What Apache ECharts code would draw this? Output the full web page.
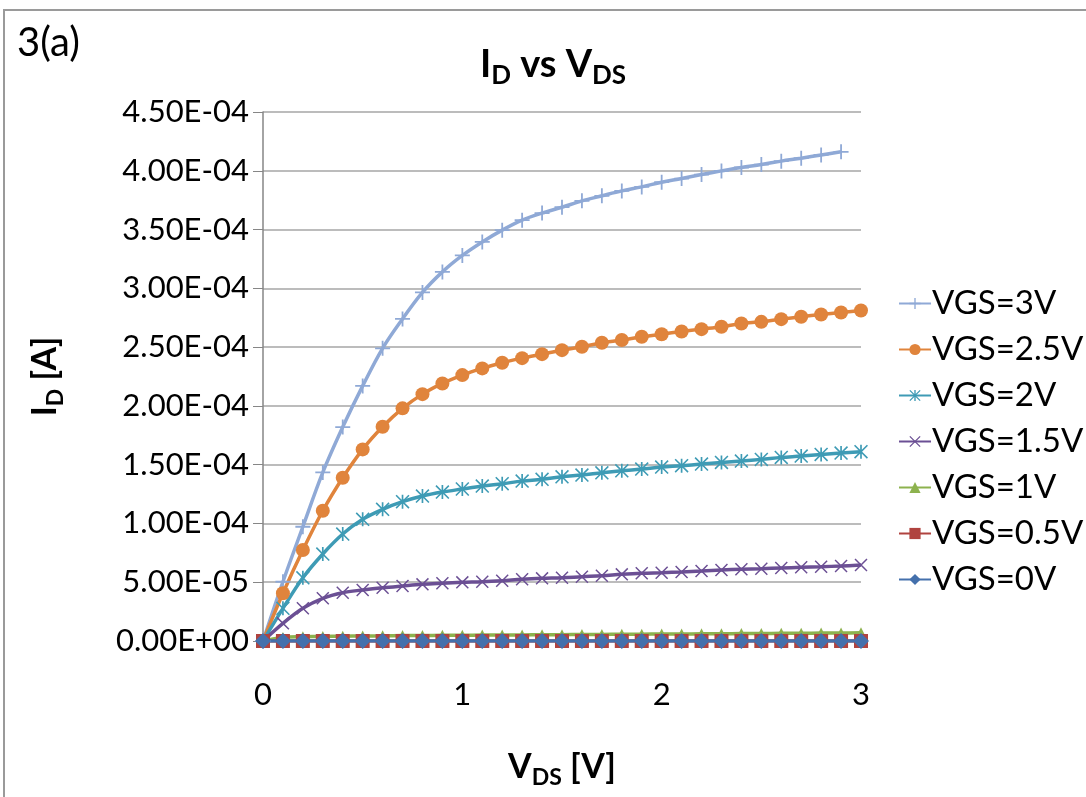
<!DOCTYPE html>
<html>
<head>
<meta charset="utf-8">
<script src="https://cdn.jsdelivr.net/npm/echarts@6/dist/echarts.min.js"></script>
<style>
  html, body { margin: 0; padding: 0; background: #fff; }
  #chart { width: 1086px; height: 797px; }
</style>
</head>
<body>
<div id="chart"></div>
<script>
// V_DS sweep (V)
const vds = [0, 0.1, 0.2, 0.3, 0.4, 0.5, 0.6, 0.7, 0.8, 0.9, 1.0, 1.1, 1.2, 1.3, 1.4, 1.5,
  1.6, 1.7, 1.8, 1.9, 2.0, 2.1, 2.2, 2.3, 2.4, 2.5, 2.6, 2.7, 2.8, 2.9, 3.0]

// drain current (A)
const id3v = [0, 5.04e-5, 9.72e-5, 14.34e-5, 18.2e-5, 21.7e-5, 24.9e-5, 27.4e-5, 29.65e-5, 31.4e-5,
  32.8e-5, 33.95e-5, 34.95e-5, 35.8e-5, 36.4e-5, 36.9e-5, 37.44e-5, 37.87e-5, 38.29e-5, 38.63e-5,
  39.03e-5, 39.34e-5, 39.68e-5, 39.99e-5, 40.28e-5, 40.53e-5, 40.82e-5, 41.07e-5, 41.35e-5, 41.61e-5]
const id25v = [0, 4.06e-5, 7.74e-5, 11.08e-5, 13.89e-5, 16.3e-5, 18.22e-5, 19.79e-5, 21.0e-5, 21.91e-5,
  22.62e-5, 23.19e-5, 23.67e-5, 24.06e-5, 24.4e-5, 24.74e-5, 25.03e-5, 25.37e-5, 25.6e-5, 25.88e-5,
  26.1e-5, 26.33e-5, 26.53e-5, 26.73e-5, 27.01e-5, 27.15e-5, 27.38e-5, 27.58e-5, 27.78e-5, 27.95e-5, 28.12e-5]
const id2v = [0, 2.78e-5, 5.38e-5, 7.4e-5, 9.1e-5, 10.35e-5, 11.2e-5, 11.85e-5, 12.33e-5, 12.67e-5,
  12.93e-5, 13.18e-5, 13.38e-5, 13.6e-5, 13.75e-5, 13.97e-5, 14.12e-5, 14.31e-5, 14.48e-5, 14.63e-5,
  14.8e-5, 14.91e-5, 15.05e-5, 15.19e-5, 15.31e-5, 15.45e-5, 15.62e-5, 15.73e-5, 15.87e-5, 15.99e-5, 16.1e-5]
const id15v = [0, 1.5e-5, 2.78e-5, 3.63e-5, 4.11e-5, 4.34e-5, 4.53e-5, 4.68e-5, 4.82e-5, 4.91e-5,
  4.99e-5, 5.04e-5, 5.13e-5, 5.25e-5, 5.33e-5, 5.38e-5, 5.47e-5, 5.55e-5, 5.67e-5, 5.76e-5,
  5.81e-5, 5.87e-5, 5.95e-5, 6.04e-5, 6.1e-5, 6.15e-5, 6.21e-5, 6.27e-5, 6.32e-5, 6.38e-5, 6.46e-5]
const id1v = [0, 0.3e-5, 0.36e-5, 0.39e-5, 0.41e-5, 0.43e-5, 0.44e-5, 0.46e-5, 0.47e-5, 0.48e-5,
  0.49e-5, 0.5e-5, 0.51e-5, 0.52e-5, 0.53e-5, 0.54e-5, 0.55e-5, 0.56e-5, 0.57e-5, 0.58e-5,
  0.59e-5, 0.6e-5, 0.61e-5, 0.62e-5, 0.63e-5, 0.64e-5, 0.65e-5, 0.66e-5, 0.67e-5, 0.68e-5, 0.7e-5]
const id05v = [0, 0, 0, 0, 0, 0, 0, 0, 0, 0, 0, 0, 0, 0, 0, 0, 0, 0, 0, 0, 0, 0, 0, 0, 0, 0, 0, 0, 0, 0, 0]
const id0v = [0, 0, 0, 0, 0, 0, 0, 0, 0, 0, 0, 0, 0, 0, 0, 0, 0, 0, 0, 0, 0, 0, 0, 0, 0, 0, 0, 0, 0, 0, 0]

const seriesNames = ['VGS=3V', 'VGS=2.5V', 'VGS=2V', 'VGS=1.5V', 'VGS=1V', 'VGS=0.5V', 'VGS=0V']

const FONT = 'Lato'

// marker shapes (excel style)
const plusPath = 'path://M4.4,0H5.6V10H4.4Z M0,4.4H10V5.6H0Z'
const crossPath = 'path://M0.8,0L10,9.2L9.2,10L0,0.8Z M9.2,0L10,0.8L0.8,10L0,9.2Z'
const starPath = 'path://M0.8,0L10,9.2L9.2,10L0,0.8Z M9.2,0L10,0.8L0.8,10L0,9.2Z M4.4,0H5.6V10H4.4Z'

const styles = [
  { color: '#8FA9D6', symbol: plusPath, size: 15 },
  { color: '#E0843C', symbol: 'circle', size: 14 },
  { color: '#3E9BB5', symbol: starPath, size: 14 },
  { color: '#6B4F94', symbol: crossPath, size: 13 },
  { color: '#8DB24E', symbol: 'triangle', size: 11 },
  { color: '#B0433F', symbol: 'rect', size: 14 },
  { color: '#4470AC', symbol: 'diamond', size: 16 }
]
const values = [id3v, id25v, id2v, id15v, id1v, id05v, id0v]

function pairs (ys) {
  return ys.map((y, i) => [vds[i], y])
}

function sciLabel (v) {
  const parts = v.toExponential(2).split('e')
  const n = parseInt(parts[1], 10)
  return parts[0] + 'E' + (n < 0 ? '-' : '+') + String(Math.abs(n)).padStart(2, '0')
}

// bold text with lowered subscript
function subRich (big, small, lh) {
  return {
    b: { fontFamily: FONT, fontWeight: 'bold', fontSize: big, color: '#000', lineHeight: lh },
    s: { fontFamily: FONT, fontWeight: 'bold', fontSize: small, color: '#000', lineHeight: small, verticalAlign: 'bottom' }
  }
}

const chart = echarts.init(document.getElementById('chart'))

const series = seriesNames.map((name, i) => ({
  name: name,
  type: 'line',
  data: pairs(values[i]),
  smooth: 0.35,
  symbol: styles[i].symbol,
  symbolSize: styles[i].size,
  showAllSymbol: true,
  lineStyle: { color: styles[i].color, width: 3.5 },
  itemStyle: { color: styles[i].color },
  emphasis: { disabled: true }
}))

const option = {
  animation: false,
  backgroundColor: '#fff',
  textStyle: { fontFamily: FONT },
  graphic: [
    // outer chart frame (cut off at right and bottom)
    {
      type: 'rect',
      shape: { x: 4, y: 10, width: 1100, height: 800 },
      style: { fill: 'none', stroke: '#9a9a9a', lineWidth: 2 },
      silent: true
    },
    {
      type: 'text',
      left: 17,
      top: 23,
      style: { text: '3(a)', font: '40px ' + FONT, fill: '#000' }
    }
  ],
  title: {
    text: '{b|I}{s|D}{b| vs V}{s|DS}',
    left: 548,
    top: 36,
    textAlign: 'center',
    textStyle: { rich: subRich(38, 26, 48) }
  },
  legend: {
    orient: 'vertical',
    left: 893,
    top: 282,
    itemWidth: 32,
    itemHeight: 14,
    itemGap: 13,
    data: seriesNames,
    textStyle: { fontFamily: FONT, fontSize: 33, color: '#000', padding: [0, 0, 0, -4] }
  },
  grid: { left: 263, right: 225, top: 112, bottom: 156 },
  xAxis: {
    type: 'value',
    min: 0,
    max: 3,
    interval: 1,
    name: '{b|V}{s|DS}{b| [V]}',
    nameLocation: 'middle',
    nameGap: 104,
    nameTextStyle: { rich: subRich(34, 23, 44) },
    axisLine: { show: true, lineStyle: { color: '#868686', width: 1.5 } },
    axisTick: { show: true, length: 7, lineStyle: { color: '#868686' } },
    axisLabel: { fontFamily: FONT, fontSize: 31, color: '#000', margin: 38 },
    splitLine: { show: false }
  },
  yAxis: {
    type: 'value',
    min: 0,
    max: 4.5e-4,
    interval: 5e-5,
    name: '{b|I}{s|D}{b| [A]}',
    nameLocation: 'middle',
    nameRotate: 90,
    nameGap: 196,
    nameTextStyle: { rich: subRich(34, 23, 44) },
    axisLine: { show: true, lineStyle: { color: '#868686', width: 1.5 } },
    axisTick: { show: true, length: 10, lineStyle: { color: '#868686' } },
    axisLabel: { fontFamily: FONT, fontSize: 31, color: '#000', margin: 14, formatter: sciLabel },
    splitLine: { show: true, lineStyle: { color: '#a6a6a6', width: 1.5 } }
  },
  series: series
}

chart.setOption(option)
</script>
</body>
</html>
